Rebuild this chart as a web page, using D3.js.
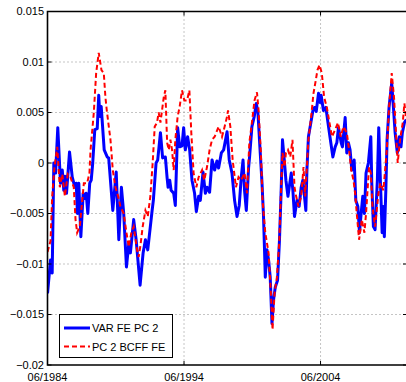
<!DOCTYPE html>
<html><head><meta charset="utf-8">
<script src="https://cdn.jsdelivr.net/npm/d3@7"></script>
<style>body{margin:0;background:#fff}svg{display:block}text{font-family:"Liberation Sans",Arial,sans-serif;font-size:11px;fill:#000}</style>
</head><body><svg id="c" width="406" height="382"></svg>
<script>
const yTicks = [0.015, 0.01, 0.005, 0, -0.005, -0.01, -0.015, -0.02];
const yTickLabels = ["0.015", "0.01", "0.005", "0", "\u22120.005", "\u22120.01", "\u22120.015", "\u22120.02"];
const xTicks = [1984.417, 1994.417, 2004.417];
const xTickLabels = ["06/1984", "06/1994", "06/2004"];
const seriesNames = ["VAR FE PC 2", "PC 2 BCFF FE"];

const blueYears = [1984.42,1984.64,1984.76,1984.88,1985.01,1985.17,1985.37,1985.50,1985.61,1985.70,1985.81,1986.03,1986.23,1986.42,1986.52,1986.61,1986.71,1986.86,1987.03,1987.15,1987.25,1987.37,1987.51,1987.62,1987.73,1987.88,1988.06,1988.17,1988.25,1988.35,1988.57,1988.79,1988.90,1989.20,1989.45,1989.64,1989.83,1990.00,1990.20,1990.37,1990.49,1990.73,1990.91,1991.20,1991.42,1991.59,1991.76,1992.08,1992.17,1992.37,1992.49,1992.69,1992.85,1993.05,1993.18,1993.25,1993.37,1993.47,1993.66,1993.78,1993.95,1994.10,1994.27,1994.39,1994.51,1994.68,1994.83,1995.00,1995.19,1995.32,1995.49,1995.61,1995.81,1995.98,1996.10,1996.29,1996.47,1996.66,1996.83,1996.95,1997.15,1997.32,1997.57,1997.73,1997.93,1998.12,1998.30,1998.46,1998.61,1998.74,1998.85,1998.98,1999.15,1999.22,1999.39,1999.56,1999.71,1999.83,2000.00,2000.13,2000.24,2000.32,2000.37,2000.49,2000.61,2000.73,2000.86,2000.97,2001.10,2001.27,2001.41,2001.54,2001.63,2001.76,2001.88,2002.03,2002.27,2002.39,2002.51,2002.69,2002.85,2003.00,2003.12,2003.24,2003.34,2003.42,2003.53,2003.71,2003.86,2003.97,2004.10,2004.27,2004.39,2004.46,2004.63,2004.81,2005.00,2005.17,2005.32,2005.49,2005.61,2005.73,2005.93,2006.02,2006.22,2006.34,2006.46,2006.58,2006.71,2006.88,2007.00,2007.15,2007.27,2007.39,2007.51,2007.63,2007.75,2007.92,2008.10,2008.17,2008.29,2008.41,2008.58,2008.68,2008.80,2008.93,2009.02,2009.09,2009.20,2009.29,2009.44,2009.63,2009.75,2009.88,2010.04,2010.19,2010.31,2010.41,2010.56,2010.70];
const blueValues = [-0.0129,-0.0096,-0.0109,0,-0.001,0.0035,-0.002,-0.0007,-0.0027,-0.0013,-0.003,0.0011,-0.0014,-0.0024,-0.002,-0.005,-0.002,-0.0073,-0.003,-0.0035,-0.003,-0.005,-0.002,-0.0017,0,0.0033,0.0034,0.0067,0.0046,0.0056,0.0013,0.0006,0.0005,-0.0047,-0.0009,-0.0076,-0.0024,-0.005,-0.0103,-0.008,-0.0089,-0.0056,-0.0076,-0.0121,-0.0089,-0.0076,-0.0086,-0.0047,-0.0037,0,0.0003,0.003,0.0005,0.0006,-0.0015,-0.0024,-0.0017,-0.0027,-0.003,-0.0042,0.0035,0.0016,0.0017,0.0035,0.0013,0.0026,0.0013,-0.0017,-0.003,-0.0048,-0.0033,-0.0037,-0.0009,-0.003,-0.0024,-0.0029,0.0003,-0.0007,0.0002,-0.0005,0.001,0.0013,0.0031,0.0003,-0.001,-0.0037,-0.0053,-0.0042,-0.0014,0.0003,-0.0027,-0.0047,-0.0004,0.0006,0.0036,0.0046,0.0059,0.005,0.001,-0.002,-0.0053,-0.0089,-0.0113,-0.0086,-0.0096,-0.0113,-0.0159,-0.0136,-0.0123,-0.0116,-0.0076,-0.0024,0.0023,0.0003,-0.0017,-0.0033,-0.001,-0.0027,-0.0053,-0.0037,-0.0043,-0.0024,-0.0017,-0.0033,-0.0047,-0.0007,0.0026,0.004,0.0052,0.0055,0.0051,0.0069,0.006,0.0067,0.0052,0.0055,0.0036,0.002,0.0006,0.0016,0.002,0.0035,0.002,0.0016,0.0045,0.001,0.002,0.0013,-0.0007,0.0003,-0.0037,-0.0043,-0.0069,-0.005,-0.0033,-0.005,-0.001,0,0.0026,-0.002,-0.0063,-0.0066,-0.0017,0.0035,-0.0017,-0.0069,-0.0043,-0.0073,-0.0027,0.0023,0.0056,0.0079,0.0056,0.003,0.001,0.0026,0.0016,0.003,0.004,0.0043];

const redYears = [1984.42,1984.64,1984.76,1984.93,1985.13,1985.32,1985.50,1985.69,1985.90,1986.10,1986.34,1986.47,1986.59,1986.78,1987.08,1987.32,1987.49,1987.57,1987.81,1987.98,1988.17,1988.37,1988.54,1988.66,1988.76,1989.03,1989.20,1989.39,1989.59,1989.76,1990.00,1990.20,1990.37,1990.56,1990.73,1990.98,1991.10,1991.24,1991.39,1991.59,1991.76,1991.95,1992.12,1992.27,1992.44,1992.56,1992.69,1992.93,1993.05,1993.18,1993.30,1993.42,1993.54,1993.66,1993.78,1993.95,1994.10,1994.27,1994.44,1994.64,1994.81,1994.95,1995.12,1995.32,1995.49,1995.74,1995.90,1996.10,1996.29,1996.47,1996.66,1996.95,1997.20,1997.39,1997.57,1997.64,1997.81,1997.98,1998.22,1998.41,1998.61,1998.85,1999.03,1999.20,1999.39,1999.58,1999.76,1999.88,2000.05,2000.17,2000.37,2000.61,2000.78,2000.90,2001.05,2001.22,2001.39,2001.52,2001.63,2001.78,2001.88,2002.03,2002.20,2002.36,2002.51,2002.63,2002.80,2003.00,2003.17,2003.29,2003.53,2003.73,2003.90,2004.07,2004.19,2004.34,2004.51,2004.68,2004.88,2005.07,2005.25,2005.49,2005.69,2005.90,2006.09,2006.34,2006.51,2006.66,2006.83,2006.95,2007.07,2007.24,2007.44,2007.63,2007.75,2007.97,2008.10,2008.22,2008.41,2008.66,2008.80,2009.02,2009.27,2009.44,2009.63,2009.80,2009.92,2010.07,2010.24,2010.44,2010.56,2010.70];
const redValues = [-0.0088,-0.0077,-0.0033,-0.0004,0.0016,-0.0024,-0.0011,-0.0033,-0.0011,-0.0014,-0.0024,-0.0056,-0.0069,-0.0063,-0.002,-0.002,-0.001,0.0013,0.005,0.0089,0.0109,0.0092,0.0089,0.0065,0.0052,0.0023,-0.0007,-0.0024,-0.0033,-0.0043,-0.005,-0.0069,-0.0083,-0.0069,-0.0063,-0.0086,-0.0093,-0.008,-0.0063,-0.0047,-0.0053,-0.0033,0,0.0036,0.004,0.005,0.004,0.0065,0.0072,0.002,0.0013,0.0023,0.0013,-0.0007,0.0023,0.0046,0.0056,0.0072,0.0062,0.0062,0.0072,0.003,-0.001,-0.0024,-0.0014,-0.0007,-0.0017,-0.0004,0.0013,0.0023,0.0026,0.0036,0.0026,0.0036,0.0046,0.0052,0.0036,0.0003,-0.0024,-0.0014,-0.0017,-0.001,-0.003,0.002,0.004,0.0062,0.007,0.0052,0.001,-0.0037,-0.0069,-0.0089,-0.0129,-0.0165,-0.0129,-0.0113,-0.0079,-0.0027,0.001,-0.0004,0.001,0.0013,0.0006,0.0023,-0.0024,-0.0033,-0.0043,-0.0033,-0.0004,-0.0033,0.0023,0.0046,0.0069,0.0082,0.0092,0.0097,0.0089,0.0065,0.0055,0.004,0.0026,0.0033,0.004,0.0026,0.0036,0.003,0.0013,-0.0007,-0.0017,-0.003,-0.005,-0.0076,-0.0056,-0.0069,-0.005,-0.0004,-0.001,-0.0043,-0.0063,-0.003,-0.002,-0.0027,0.0013,0.0056,0.0089,0.0065,0.0036,0,0.0023,0.004,0.0059,0.0043];

const svg = d3.select("#c");
const L = 47.5, R = 407, T = 11.5, B = 365;
const x = d3.scaleLinear().domain([1984.417, 2010.75]).range([L, R]);
const y = d3.scaleLinear().domain([-0.02, 0.015]).range([B, T]);

const g = svg.append("g");
// grid
g.selectAll(".gy").data(yTicks.slice(1, -1)).enter().append("line")
  .attr("x1", L).attr("x2", R).attr("y1", d => y(d)).attr("y2", d => y(d))
  .attr("stroke", "#8a8a8a").attr("stroke-width", 1).attr("stroke-dasharray", "1,3");
g.selectAll(".gx").data(xTicks.slice(1)).enter().append("line")
  .attr("x1", d => x(d)).attr("x2", d => x(d)).attr("y1", T).attr("y2", B)
  .attr("stroke", "#8a8a8a").attr("stroke-width", 1).attr("stroke-dasharray", "1,3");

// series
const clip = svg.append("clipPath").attr("id", "pc").append("rect").attr("x", L).attr("y", T).attr("width", R - L).attr("height", B - T);
const line = d3.line().x(d => x(d[0])).y(d => y(d[1]));
const blue = blueYears.map((t, i) => [t, blueValues[i]]);
const red = redYears.map((t, i) => [t, redValues[i]]);
const pg = svg.append("g").attr("clip-path", "url(#pc)");
pg.append("path").attr("d", line(blue)).attr("fill", "none").attr("stroke", "#0000ff").attr("stroke-width", 3).attr("stroke-linejoin", "round");
pg.append("path").attr("d", line(red)).attr("fill", "none").attr("stroke", "#ff0000").attr("stroke-width", 2).attr("stroke-dasharray", "5,3");

// ticks
const tk = svg.append("g").attr("stroke", "#000").attr("stroke-width", 1);
yTicks.forEach(v => {
  tk.append("line").attr("x1", L).attr("x2", L + 4).attr("y1", y(v)).attr("y2", y(v));
  tk.append("line").attr("x1", R - 4).attr("x2", R).attr("y1", y(v)).attr("y2", y(v));
});
xTicks.forEach(v => {
  tk.append("line").attr("x1", x(v)).attr("x2", x(v)).attr("y1", B).attr("y2", B - 4);
  tk.append("line").attr("x1", x(v)).attr("x2", x(v)).attr("y1", T).attr("y2", T + 4);
});
// frame
svg.append("path").attr("d", `M${R},${T}H${L}V${B}H${R}`).attr("fill", "none").attr("stroke", "#000").attr("stroke-width", 1.6);

// labels
svg.selectAll(".yl").data(yTicks).enter().append("text")
  .attr("x", 44).attr("y", d => y(d)).attr("dy", "0.35em").attr("text-anchor", "end")
  .text((d, i) => yTickLabels[i]);
svg.selectAll(".xl").data(xTicks).enter().append("text")
  .attr("x", d => x(d)).attr("y", 381).attr("text-anchor", "middle")
  .text((d, i) => xTickLabels[i]);

// legend
const lg = svg.append("g");
lg.append("rect").attr("x", 59.5).attr("y", 314.5).attr("width", 113).attr("height", 43).attr("fill", "#fff").attr("stroke", "#000").attr("stroke-width", 1);
lg.append("line").attr("x1", 64).attr("x2", 90).attr("y1", 328).attr("y2", 328).attr("stroke", "#0000ff").attr("stroke-width", 3);
lg.append("line").attr("x1", 64).attr("x2", 90).attr("y1", 346.5).attr("y2", 346.5).attr("stroke", "#ff0000").attr("stroke-width", 2).attr("stroke-dasharray", "5,3");
lg.append("text").attr("x", 92).attr("y", 332).text(seriesNames[0]);
lg.append("text").attr("x", 92).attr("y", 350.5).text(seriesNames[1]);
</script></body></html>
